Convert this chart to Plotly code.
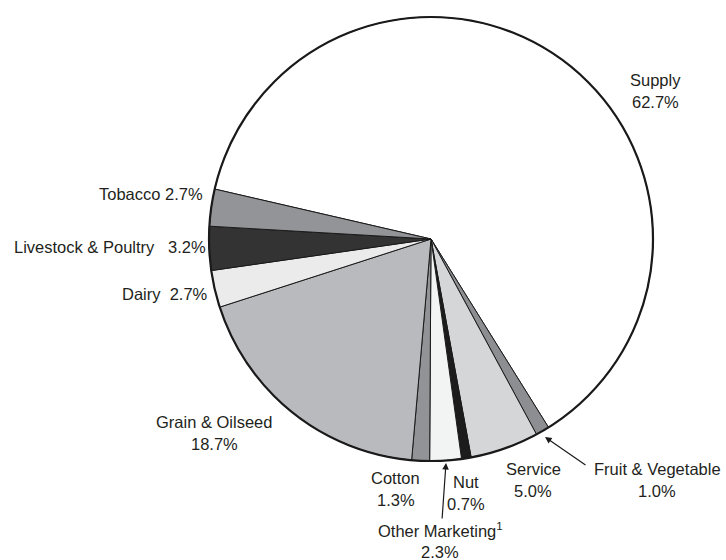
import plotly.graph_objects as go

# Data (clockwise from the Supply slice)
categories = ["Supply", "Fruit & Vegetable", "Service", "Nut", "Other Marketing",
              "Cotton", "Grain & Oilseed", "Dairy", "Livestock & Poultry", "Tobacco"]
shares = [62.7, 1.0, 5.0, 0.7, 2.3, 1.3, 18.7, 2.7, 3.2, 2.7]
slice_colors = ["#ffffff", "#8d8e91", "#d5d6d8", "#1c1c1c", "#f2f3f3",
                "#929396", "#b9babd", "#ebebeb", "#333333", "#939497"]
label_text = ["Supply", "Fruit & Vegetable", "Service", "Nut", "Other Marketing<sup>1</sup>",
              "Cotton", "Grain & Oilseed", "Dairy", "Livestock & Poultry", "Tobacco"]

W, H = 726, 560
CX, CY, R = 431, 239, 222

dom = dict(x=[(CX - R) / W, (CX + R) / W], y=[1 - (CY + R) / H, 1 - (CY - R) / H])

fig = go.Figure()
fig.add_trace(go.Pie(
    labels=categories, values=shares, sort=False, direction="clockwise",
    rotation=-77, textinfo="none", hoverinfo="label+percent",
    marker=dict(colors=slice_colors, line=dict(color="#1a1a1a", width=1)),
    domain=dom, showlegend=False,
))
# thicker outer rim
fig.add_trace(go.Pie(
    labels=["rim"], values=[1], sort=False, textinfo="none", hoverinfo="skip",
    marker=dict(colors=["rgba(0,0,0,0)"], line=dict(color="#1a1a1a", width=2.2)),
    domain=dom, showlegend=False,
))

FONT = dict(family="Liberation Sans, Arial, sans-serif", size=16.5, color="#231f20")

def px(x, y):
    return x / W, 1 - y / H

# label placement: (x, y of first line, anchor, single_line)
placements = {
    "Supply": (655, 80, "center", False),
    "Fruit & Vegetable": (657, 469, "center", False),
    "Service": (533, 469, "center", False),
    "Nut": (466, 482, "center", False),
    "Other Marketing": (440, 530, "center", False),
    "Cotton": (396, 478, "center", False),
    "Grain & Oilseed": (214, 422, "center", False),
    "Dairy": (210, 294, "right", True),
    "Livestock & Poultry": (208, 247, "right", True),
    "Tobacco": (205, 194, "right", True),
}
sep = {"Dairy": "\u00a0\u00a0", "Livestock & Poultry": "\u00a0\u00a0\u00a0", "Tobacco": " "}

annotations = []
for cat, txt, val in zip(categories, label_text, shares):
    x, y, anchor, single = placements[cat]
    pct = f"{val:.1f}%"
    lines = [txt + sep[cat] + pct] if single else [txt, pct]
    for i, line in enumerate(lines):
        ax_, ay_ = px(x, y + 22 * i)
        annotations.append(dict(x=ax_, y=ay_, xref="paper", yref="paper", text=line,
                                showarrow=False, xanchor=anchor, yanchor="middle", font=FONT))

# pointer arrows
for hx, hy, tx, ty in [(545, 437, 587, 466), (446, 463, 442, 520)]:
    X, Y = px(hx, hy)
    annotations.append(dict(x=X, y=Y, xref="paper", yref="paper", text="", showarrow=True,
                            ax=tx - hx, ay=ty - hy, arrowhead=2, arrowsize=1.1,
                            arrowwidth=1.2, arrowcolor="#1a1a1a"))

fig.update_layout(width=W, height=H, margin=dict(l=0, r=0, t=0, b=0),
                  paper_bgcolor="white", plot_bgcolor="white", annotations=annotations)
fig.write_html("out.html", config={"displayModeBar": False},
               post_script="document.body.style.margin='0';document.body.style.overflow='hidden';")
